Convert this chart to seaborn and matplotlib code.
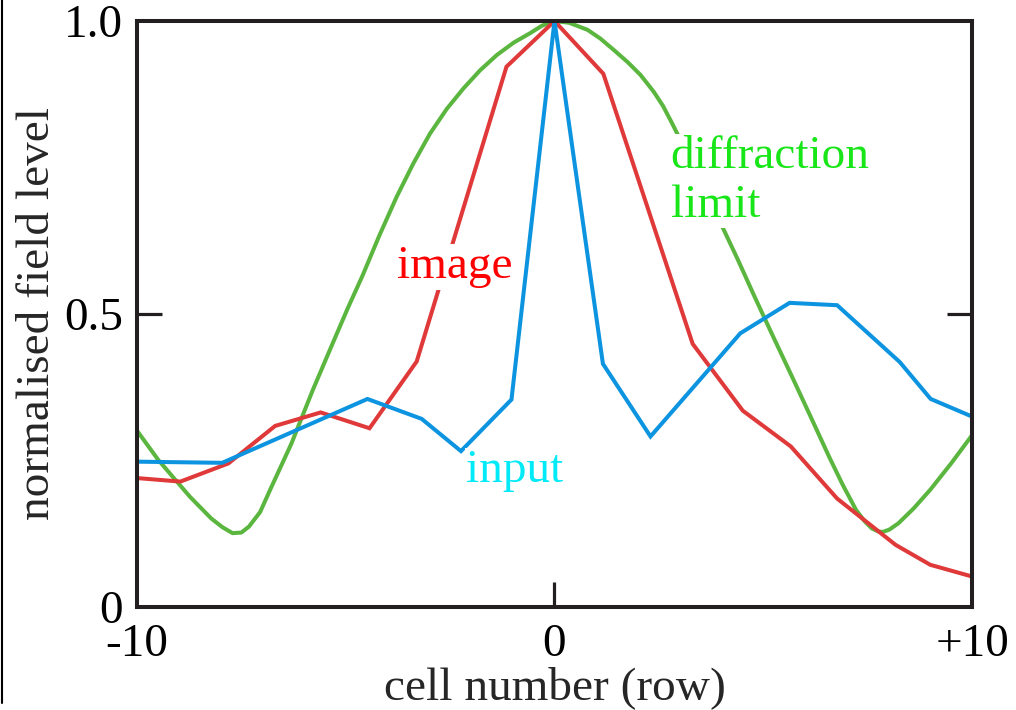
import matplotlib
matplotlib.use("Agg")
import matplotlib.pyplot as plt
from matplotlib.lines import Line2D
import seaborn as sns
import pandas as pd

# ---- data ----
input_x = [-10, -7.96, -4.48, -3.18, -2.24, -1.03, 0, 1.16, 2.30, 4.45, 5.63, 6.77, 8.27, 9.01, 10]
input_y = [0.248, 0.246, 0.355, 0.321, 0.266, 0.354, 1.0, 0.415, 0.291, 0.467, 0.519, 0.515, 0.418, 0.355, 0.325]

image_x = [-10, -8.96, -7.81, -6.69, -5.60, -4.43, -3.30, -1.15, 0, 1.17, 3.31, 4.51, 5.66, 6.77, 8.17, 9.0, 10]
image_y = [0.220, 0.214, 0.245, 0.309, 0.332, 0.305, 0.419, 0.922, 1.0, 0.910, 0.449, 0.335, 0.274, 0.185, 0.106, 0.072, 0.052]

diff_x = [-10, -9.49, -8.73, -8.22, -7.95, -7.71, -7.50, -7.32, -7.05, -6.81, -6.30, -5.79, -5.30, -4.95,
          -4.60, -4.20, -3.78, -3.38, -2.98, -2.58, -2.18, -1.78, -1.38, -0.98, -0.59, -0.30, 0,
          0.35, 0.79, 1.10, 1.43, 1.75, 2.06, 2.38, 2.60, 2.82, 3.40, 3.98, 4.39, 4.79, 5.24, 5.69,
          6.14, 6.58, 6.90, 7.22, 7.42, 7.60, 7.75, 7.86, 8.02, 8.24, 8.60, 9.00, 9.50, 10]
diff_y = [0.301, 0.251, 0.188, 0.151, 0.136, 0.126, 0.127, 0.137, 0.162, 0.200, 0.279, 0.370, 0.452, 0.510,
          0.565, 0.633, 0.700, 0.757, 0.808, 0.850, 0.885, 0.916, 0.942, 0.963, 0.979, 0.992, 1.0,
          0.997, 0.985, 0.970, 0.950, 0.930, 0.908, 0.879, 0.855, 0.825, 0.742, 0.655, 0.593, 0.530, 0.461, 0.393,
          0.324, 0.256, 0.209, 0.166, 0.147, 0.134, 0.129, 0.128, 0.132, 0.143, 0.168, 0.200, 0.245, 0.293]

x_ticks = [-10, 0, 10]
x_tick_labels = ["-10", "0", "+10"]
y_ticks = [0, 0.5, 1.0]
y_tick_labels = ["0", "0.5", "1.0"]
x_mark_ticks = [0]
y_mark_ticks = [0.5]

sns.set_style("white")
plt.rcParams["font.family"] = ["Liberation Serif", "DejaVu Serif"]

fig = plt.figure(figsize=(10.16, 7.10), dpi=100)
ax = fig.add_axes([0.1348, 0.1451, 0.9567 - 0.1348, 0.9704 - 0.1451])

frame_col = "#231f20"
c_green = "#5ab63e"
c_red = "#e0393a"
c_blue = "#0d94e0"
FS = 34

df_d = pd.DataFrame({"x": diff_x, "y": diff_y})
df_i = pd.DataFrame({"x": image_x, "y": image_y})
df_n = pd.DataFrame({"x": input_x, "y": input_y})

sns.lineplot(data=df_d, x="x", y="y", ax=ax, color=c_green, lw=2.9, sort=False, estimator=None, zorder=2)
sns.lineplot(data=df_i, x="x", y="y", ax=ax, color=c_red, lw=2.9, sort=False, estimator=None, zorder=3)
sns.lineplot(data=df_n, x="x", y="y", ax=ax, color=c_blue, lw=2.9, sort=False, estimator=None, zorder=4)
ax.lines[0].set_solid_joinstyle("round")
for ln in ax.lines[1:]:
    ln.set_solid_joinstyle("miter")

ax.set_xlim(-10, 10)
ax.set_ylim(0, 1.0)

for s in ax.spines.values():
    s.set_visible(True)
    s.set_color(frame_col)
    s.set_linewidth(2.9)
    s.set_zorder(5)

# labelled major ticks without marks
ax.set_xticks(x_ticks)
ax.set_xticklabels(x_tick_labels)
ax.set_yticks(y_ticks)
ax.set_yticklabels(y_tick_labels)
ax.tick_params(axis="both", which="major", length=0, labelsize=FS, labelcolor="black")
ax.tick_params(axis="x", which="major", bottom=True, pad=12)
ax.tick_params(axis="y", which="major", left=True, right=False, labelleft=True, pad=10)

# inward tick marks as minor ticks
ax.xaxis.remove_overlapping_locs = False
ax.yaxis.remove_overlapping_locs = False
ax.set_xticks(x_mark_ticks, minor=True)
ax.set_yticks(y_mark_ticks, minor=True)
ax.tick_params(axis="x", which="minor", direction="in", length=18, width=2.3, color=frame_col,
               bottom=True, top=False)
ax.tick_params(axis="y", which="minor", direction="in", length=18, width=2.3, color=frame_col,
               left=True, right=True)

ax.set_xlabel("cell number (row)", fontsize=FS, labelpad=0)
ax.set_ylabel("normalised field level", fontsize=FS, labelpad=4)

box = dict(facecolor="white", edgecolor="none", pad=1)
ax.text(2.78, 0.6655, "diffraction\nlimit", color="#19e619", fontsize=FS, ha="left",
        va="baseline", linespacing=1.2, bbox=box, zorder=6)
ax.text(-3.77, 0.561, "image", color="#ff0000", fontsize=FS, ha="left", va="baseline",
        bbox=box, zorder=6)
ax.text(-2.12, 0.213, "input", color="#00eaf8", fontsize=FS, ha="left", va="baseline",
        bbox=box, zorder=6)

fig.add_artist(Line2D([0.002, 0.002], [0.01, 1.0], transform=fig.transFigure,
                      color="black", lw=1.5))

fig.savefig("out.png", dpi=100)

# sanity check: the left inward tick at 0.5 must be drawn
img = plt.imread("out.png")
left_dark = img[308:321, 140:156, :3].mean(axis=2).min()
if left_dark > 0.5:
    raise SystemExit("left tick missing, min=%s" % left_dark)
